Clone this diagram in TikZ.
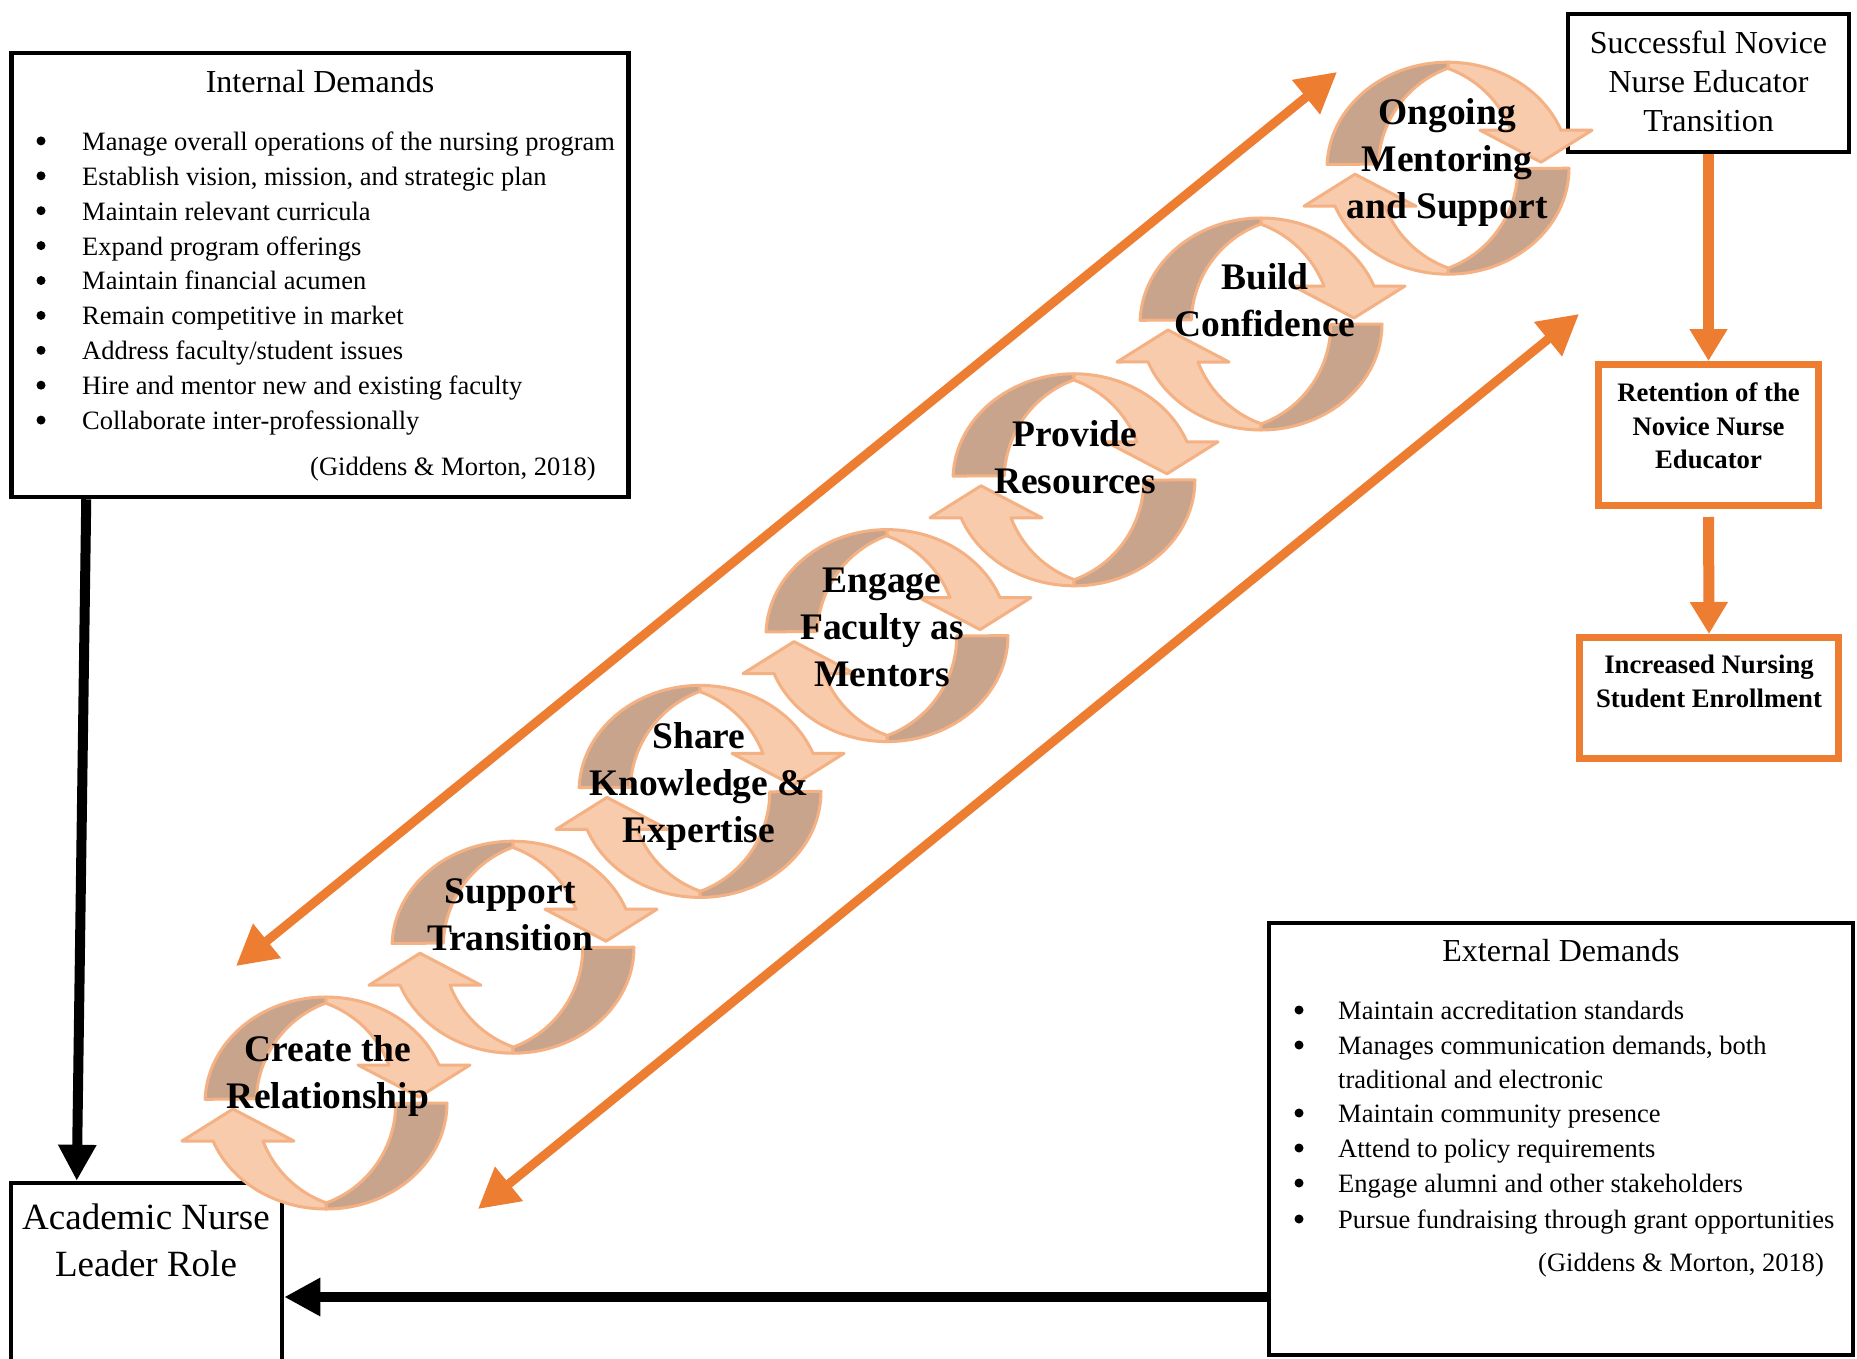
\documentclass[tikz,border=0pt]{standalone}
\usepackage{fontspec}
\setmainfont{Liberation Serif}
\usetikzlibrary{arrows.meta}

\definecolor{ringlight}{RGB}{248,203,173}
\definecolor{ringdark}{RGB}{201,164,140}
\definecolor{ringedge}{RGB}{244,177,131}
\definecolor{accent}{RGB}{237,125,49}

\tikzset{
  darkband/.style={fill=ringdark, draw=ringedge, line width=3pt, line join=round},
  lightband/.style={fill=ringlight, draw=ringedge, line width=3pt, line join=round},
  steptext/.style={font=\fontsize{37.5}{47}\selectfont\bfseries, align=center, inner sep=0pt},
  blackbox/.style={draw, line width=4.5pt, inner sep=0pt},
  orangebox/.style={draw=accent, line width=7pt, inner sep=0pt},
  boxtitle/.style={font=\fontsize{32}{36}\selectfont, inner sep=0pt},
  itemtext/.style={font=\fontsize{26.5}{35}\selectfont, inner sep=0pt, text height=0.7em, text depth=0.22em},
  dot/.style={circle, fill, inner sep=0pt, minimum size=9pt},
  blackarrow/.style={line width=10pt, -{Triangle[length=36pt,width=36pt]}},
  orangearrow/.style={draw=accent, line width=11pt, -{Triangle[length=32pt,width=36pt]}},
  diagarrow/.style={draw=accent, line width=9pt, {Triangle[length=40pt,width=42pt]}-{Triangle[length=40pt,width=42pt]}}
}

% one turn of the cycle, centred at (#1,#2)
\newcommand{\cyclering}[2]{%
  \begin{scope}[shift={(#1,#2)}]
    \filldraw[darkband] (182:121 and 106) arc[start angle=182,end angle=270,x radius=121,y radius=106]
      -- (0,-100) arc[start angle=250,end angle=182,radius=106] -- cycle;
    \filldraw[darkband] (0:121 and 106) arc[start angle=0,end angle=90,x radius=121,y radius=106]
      -- (0,100) arc[start angle=70,end angle=0,radius=106] -- cycle;
    \filldraw[lightband] (270:121 and 106) arc[start angle=270,end angle=339,x radius=121,y radius=106]
      -- (144,-38) -- (93,-6) -- (32,-38) -- (63,-38) arc[start angle=339,end angle=290,radius=106] -- cycle;
    \filldraw[lightband] (90:121 and 106) arc[start angle=90,end angle=159,x radius=121,y radius=106]
      -- (-144,38) -- (-93,6) -- (-32,38) -- (-63,38) arc[start angle=159,end angle=110,radius=106] -- cycle;
  \end{scope}}

\begin{document}
\begin{tikzpicture}[x=1pt,y=-1pt]
  \useasboundingbox (0,0) rectangle (1857,1359);

  % boxes
  \node[blackbox, minimum width=617pt, minimum height=444pt] (intd) at (320,275) {};
  \node[blackbox, minimum width=271pt, minimum height=230pt] (acad) at (146.5,1298) {};
  \node[blackbox, minimum width=584pt, minimum height=432pt] (ext) at (1561,1139) {};
  \node[blackbox, minimum width=281pt, minimum height=138pt] (succ) at (1708.5,83) {};
  \node[orangebox, minimum width=220pt, minimum height=141pt] (ret) at (1708.5,435) {};
  \node[orangebox, minimum width=259pt, minimum height=121pt] (inc) at (1709,698) {};

  % the cycle
  \foreach \i in {0,...,6}
    \cyclering{326+187*\i}{1103-155.8*\i};
  \foreach \x/\y/\txt [count=\i] in {328/1076/{Create the\\Relationship},
      510/915/{Support\\Transition}, 699/786/{Share\\Knowledge \&\\Expertise},
      882/627/{Engage\\Faculty as\\Mentors}, 1075/457/{Provide\\Resources},
      1265/300/{Build\\Confidence}, 1447/162/{Ongoing\\Mentoring\\and Support}}
    \node[steptext] (step\i) at (\x,\y) {\txt};

  % internal demands
  \node[boxtitle] (inttitle) at (320,82) {Internal Demands};
  \foreach \txt [count=\i] in {{Manage overall operations of the nursing program},
      {Establish vision, mission, and strategic plan}, {Maintain relevant curricula},
      {Expand program offerings}, {Maintain financial acumen}, {Remain competitive in market},
      {Address faculty/student issues}, {Hire and mentor new and existing faculty},
      {Collaborate inter-professionally}}
  {
    \node[dot] (intb\i) at (41,106+34.9*\i) {};
    \node[itemtext, anchor=west] (intt\i) at (82,113+34.9*\i) {\txt};
  }
  \node[itemtext, anchor=east] (intcite) at (596,473) {(Giddens \& Morton, 2018)};

  % external demands
  \node[boxtitle] (exttitle) at (1561,951) {External Demands};
  \foreach \y/\txt [count=\i] in {1017/{Maintain accreditation standards},
      1052/{Manages communication demands, both}, 1086/{traditional and electronic},
      1120/{Maintain community presence}, 1155/{Attend to policy requirements},
      1190/{Engage alumni and other stakeholders},
      1226/{Pursue fundraising through grant opportunities}}
    \node[itemtext, anchor=west] (extt\i) at (1338,\y) {\txt};
  \foreach \y [count=\i] in {1010,1045,1113,1148,1183,1219}
    \node[dot] (extb\i) at (1299,\y) {};
  \node[itemtext, anchor=east] (extcite) at (1824,1269) {(Giddens \& Morton, 2018)};

  % other box texts
  \node[align=center, inner sep=0pt, font=\fontsize{37}{47}\selectfont] (acadtext) at (146,1240) {Academic Nurse\\Leader Role};
  \node[align=center, inner sep=0pt, font=\fontsize{32}{39}\selectfont] (succtext) at (1708.5,81) {Successful Novice\\Nurse Educator\\Transition};
  \node[align=center, inner sep=0pt, font=\fontsize{26.7}{33.5}\selectfont\bfseries] (rettext) at (1708.5,426) {Retention of the\\Novice Nurse\\Educator};
  \node[align=center, inner sep=0pt, font=\fontsize{26.7}{34}\selectfont\bfseries] (inctext) at (1709,681) {Increased Nursing\\Student Enrollment};

  % connectors
  \draw[blackarrow] ([xshift=77pt]intd.south west) -- ([xshift=68pt]acad.north west);
  \draw[blackarrow] (ext.west |- 0,1297) -- (acad.east |- 0,1297);
  \draw[orangearrow] (succ.south) -- (ret.north);
  \draw[orangearrow, shorten <=8pt] (ret.south) -- (inc.north);

  \coordinate (upleft) at (236,966);
  \coordinate (upright) at (1337,72);
  \coordinate (lowleft) at (478,1209);
  \coordinate (lowright) at (1579,314);
  \draw[diagarrow] (upleft) -- (upright);
  \draw[diagarrow] (lowleft) -- (lowright);
\end{tikzpicture}
\end{document}
